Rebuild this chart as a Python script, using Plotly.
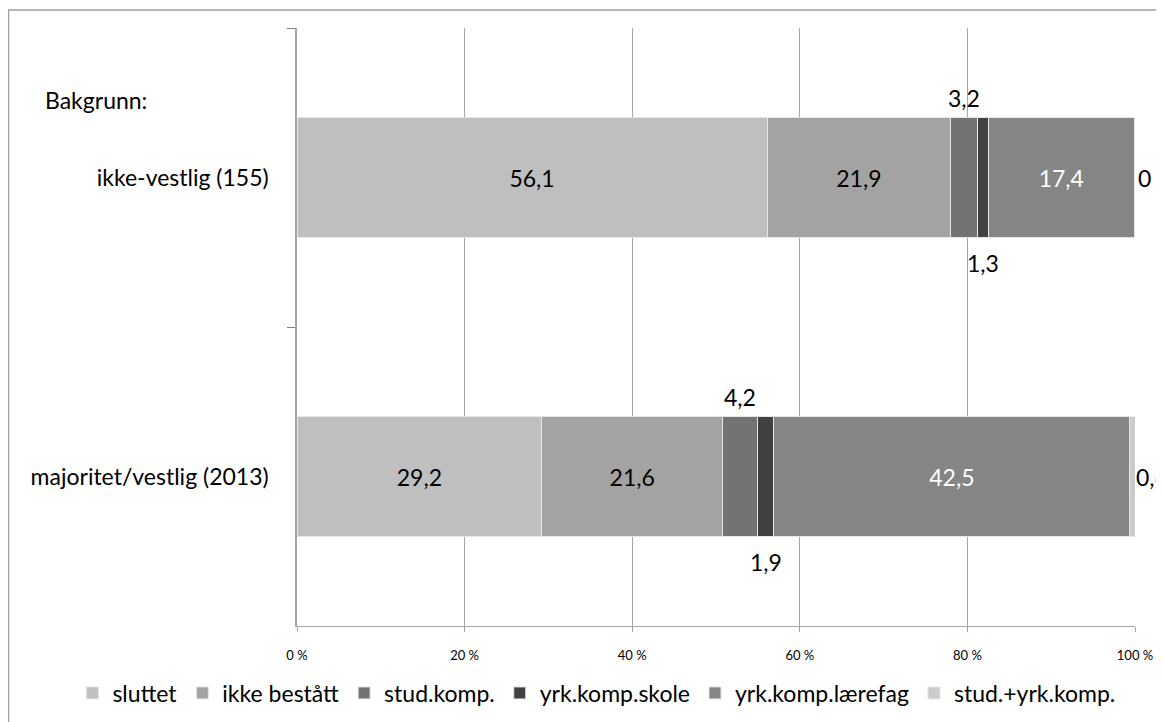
import plotly.graph_objects as go

categories = ["ikke-vestlig (155)", "majoritet/vestlig (2013)"]
series_names = ["sluttet", "ikke bestått", "stud.komp.", "yrk.komp.skole",
                "yrk.komp.lærefag", "stud.+yrk.komp."]
sluttet = [56.1, 29.2]
ikke_bestatt = [21.9, 21.6]
stud_komp = [3.2, 4.2]
yrk_skole = [1.3, 1.9]
yrk_laerefag = [17.4, 42.5]
stud_yrk = [0.0, 0.6]
tick_vals = [0, 20, 40, 60, 80, 100]
tick_text = ["0 %", "20 %", "40 %", "60 %", "80 %", "100 %"]

series_values = [sluttet, ikke_bestatt, stud_komp, yrk_skole, yrk_laerefag, stud_yrk]

# styles
colors = ["#BFBFBF", "#A3A3A3", "#737373", "#414141", "#858585", "#CBCBCB"]
text_colors = ["#000000", "#000000", "#000000", "#000000", "#FFFFFF", "#000000"]
placement = ["inside", "inside", "above", "below", "inside", "right"]
FONT = "Lato"
FS = 23


def fmt(v):
    if v == 0:
        return "0"
    return f"{v:.1f}".replace(".", ",")


fig = go.Figure()
cum = [0.0] * len(categories)
annotations = []
for name, vals, col, tcol, pl in zip(series_names, series_values, colors, text_colors, placement):
    texts = [fmt(v) if pl == "inside" else "" for v in vals]
    fig.add_trace(go.Bar(
        name=name, y=categories, x=vals, orientation="h",
        marker=dict(color=col, line=dict(color="#E6E6E6", width=1)),
        text=texts, textposition="inside", insidetextanchor="middle",
        textfont=dict(family=FONT, size=FS, color=tcol),
        constraintext="none",
        width=0.4,
    ))
    if pl != "inside":
        for i, (c, v) in enumerate(zip(categories, vals)):
            mid = cum[i] + v / 2
            if pl == "above":
                annotations.append(dict(x=mid, y=c, text=fmt(v), showarrow=False,
                                        yshift=80, font=dict(family=FONT, size=FS, color="#000")))
            elif pl == "below":
                annotations.append(dict(x=mid, y=c, text=fmt(v), showarrow=False,
                                        yshift=-85, font=dict(family=FONT, size=FS, color="#000")))
            else:
                annotations.append(dict(x=mid, y=c, text=fmt(v), showarrow=False,
                                        xanchor="left", xshift=2,
                                        font=dict(family=FONT, size=FS, color="#000")))
    cum = [a + b for a, b in zip(cum, vals)]

annotations.append(dict(x=-0.303, y=0.8796, xref="paper", yref="paper", text="Bakgrunn:",
                        showarrow=False, xanchor="left", yanchor="middle",
                        font=dict(family=FONT, size=FS, color="#000")))

fig.update_layout(
    barmode="stack",
    width=1164, height=722,
    margin=dict(l=289, r=37, t=20, b=104, autoexpand=False),
    paper_bgcolor="white", plot_bgcolor="white",
    font=dict(family=FONT, size=FS, color="#000"),
    annotations=annotations,
    showlegend=True,
    legend=dict(orientation="h", x=-0.268, xanchor="left", y=-0.112, yanchor="middle",
                font=dict(family=FONT, size=FS, color="#000"), traceorder="normal",
                itemwidth=30, tracegroupgap=0),
    shapes=[dict(type="rect", xref="paper", yref="paper",
                 x0=-0.3443, x1=1.06, y0=-0.2, y1=1.030,
                 line=dict(color="#A0A0A0", width=1.5), fillcolor="rgba(0,0,0,0)",
                 layer="below")],
    bargap=0.6,
)
fig.update_xaxes(range=[0, 100], tickvals=tick_vals, ticktext=tick_text,
                 tickfont=dict(family=FONT, size=13, color="#000"),
                 showgrid=True, gridcolor="#A6A6A6", gridwidth=1.3,
                 showline=True, linecolor="#A6A6A6", linewidth=1.3,
                 ticks="outside", ticklen=5, tickcolor="#A6A6A6",
                 ticklabelstandoff=12, zeroline=False, fixedrange=True)
fig.update_yaxes(categoryorder="array", categoryarray=categories, autorange="reversed",
                 tickson="boundaries", ticks="outside", ticklen=8, tickcolor="#808080",
                 showline=True, linecolor="#A6A6A6", linewidth=1.5,
                 showgrid=False, ticklabelstandoff=22,
                 tickfont=dict(family=FONT, size=FS, color="#000"), fixedrange=True)

fig.write_html("out.html")
